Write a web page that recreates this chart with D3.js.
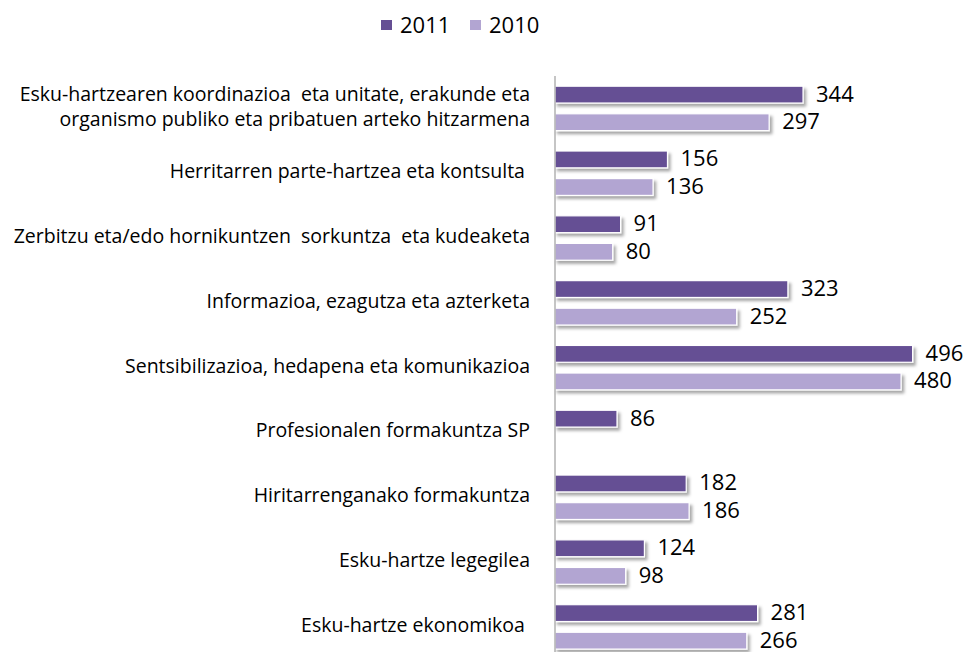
<!DOCTYPE html>
<html>
<head>
<meta charset="utf-8">
<script src="https://cdn.jsdelivr.net/npm/d3@7"></script>
<style>
  body { margin: 0; background: #fff; }
  svg text { font-family: "Open Sans", Lato, sans-serif; fill: #000; white-space: pre; }
</style>
</head>
<body>
<svg width="971" height="652"></svg>
<script>
const categories = [
  'Esku-hartzearen koordinazioa  eta unitate, erakunde eta\norganismo publiko eta pribatuen arteko hitzarmena',
  'Herritarren parte-hartzea eta kontsulta ',
  'Zerbitzu eta/edo hornikuntzen  sorkuntza  eta kudeaketa',
  'Informazioa, ezagutza eta azterketa',
  'Sentsibilizazioa, hedapena eta komunikazioa',
  'Profesionalen formakuntza SP',
  'Hiritarrenganako formakuntza',
  'Esku-hartze legegilea',
  'Esku-hartze ekonomikoa ',
];
const seriesNames = ['2011', '2010'];
const values2011 = [344, 156, 91, 323, 496, 86, 182, 124, 281];
const values2010 = [297, 136, 80, 252, 480, null, 186, 98, 266];
const colors = ['#654f94', '#b2a5d2'];

const svg = d3.select('svg');

// drop shadow for the bars
const defs = svg.append('defs');
defs
  .append('filter')
  .attr('id', 'shadow')
  .attr('x', '-5%')
  .attr('y', '-30%')
  .attr('width', '115%')
  .attr('height', '180%')
  .append('feDropShadow')
  .attr('dx', 2.5)
  .attr('dy', 3)
  .attr('stdDeviation', 1.5)
  .attr('flood-color', '#000')
  .attr('flood-opacity', 0.35);

const x0 = 555;
const x = d3.scaleLinear().domain([0, 500]).range([x0, x0 + 500 * 0.721]);
const y = d3.scaleBand().domain(d3.range(categories.length)).range([76, 659.3]);
const ySub = d3.scaleBand().domain(seriesNames).range([0, y.bandwidth()]).paddingInner(0.39).paddingOuter(0.37);

const rows = categories.map((c, i) => ({ i, c, vals: [values2011[i], values2010[i]] }));

// bars + value labels
const barG = svg.append('g');
seriesNames.forEach((s, si) => {
  const data = rows.filter((r) => r.vals[si] != null);
  barG
    .selectAll(null)
    .data(data)
    .join('rect')
    .attr('x', x(0))
    .attr('y', (d) => y(d.i) + ySub(s))
    .attr('width', (d) => x(d.vals[si]) - x(0))
    .attr('height', ySub.bandwidth())
    .attr('fill', colors[si])
    .attr('stroke', '#fff')
    .attr('stroke-width', 1.2)
    .attr('filter', 'url(#shadow)');

  svg
    .append('g')
    .selectAll(null)
    .data(data)
    .join('text')
    .attr('x', (d) => x(d.vals[si]) + 13)
    .attr('y', (d) => y(d.i) + ySub(s) + ySub.bandwidth() / 2 + 7)
    .attr('font-size', 22)
    .text((d) => d.vals[si]);
});

// vertical axis line
svg
  .append('line')
  .attr('x1', x0)
  .attr('x2', x0)
  .attr('y1', 76)
  .attr('y2', 652)
  .attr('stroke', '#a6a6a6')
  .attr('stroke-width', 1.3);

// category labels
const labelG = svg.append('g');
rows.forEach((r) => {
  const lines = r.c.split('\n');
  const cy = y(r.i) + y.bandwidth() / 2;
  const base = lines.length === 1 ? cy + 5 : cy - 7;
  lines.forEach((ln, li) => {
    labelG
      .append('text')
      .attr('x', 530)
      .attr('y', base + li * 25)
      .attr('text-anchor', 'end')
      .attr('font-size', 19.5)
      .text(ln);
  });
});

// legend
const legend = svg.append('g');
const legendX = [381, 470];
seriesNames.forEach((s, si) => {
  legend
    .append('rect')
    .attr('x', legendX[si])
    .attr('y', 20)
    .attr('width', 11)
    .attr('height', 10)
    .attr('fill', colors[si]);
  legend
    .append('text')
    .attr('x', legendX[si] + 19)
    .attr('y', 33)
    .attr('font-size', 22)
    .text(s);
});
</script>
</body>
</html>
